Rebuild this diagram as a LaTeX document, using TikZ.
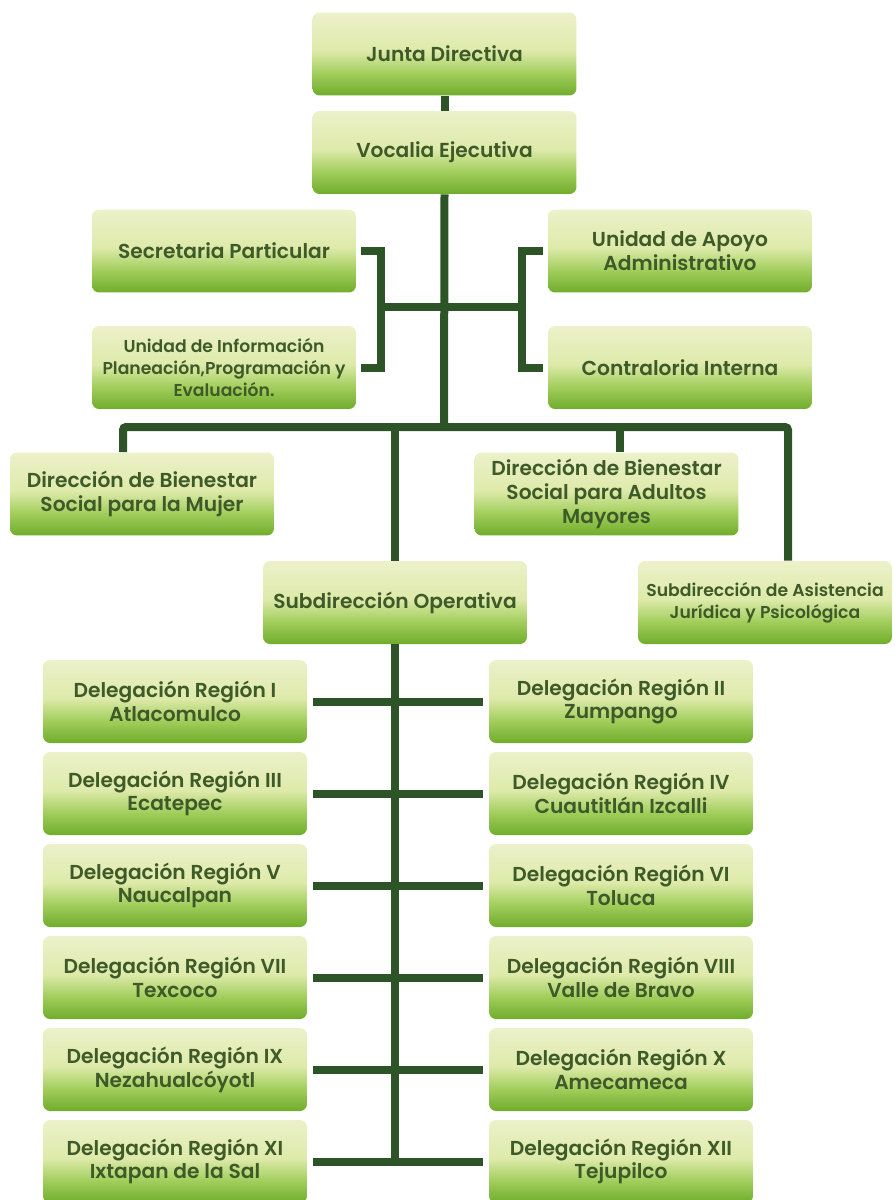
\documentclass[tikz,border=0pt]{standalone}
\usepackage{fontspec}
\setmainfont{Poppins}[BoldFont={Poppins SemiBold}]
\definecolor{linea}{RGB}{44,84,38}
\definecolor{letra}{RGB}{62,90,40}
\definecolor{verdeT}{RGB}{236,241,202}
\definecolor{verdeC}{RGB}{222,234,170}
\definecolor{verdeM}{RGB}{160,205,90}
\definecolor{verdeB}{RGB}{112,172,44}
\pgfdeclareverticalshading{caja}{100bp}{color(0bp)=(verdeB); color(25bp)=(verdeB); color(38bp)=(verdeM); color(52bp)=(verdeC); color(75bp)=(verdeT); color(100bp)=(verdeT)}
\tikzset{
  unidad/.style={shading=caja, rounded corners=0.14cm, minimum width=5.28cm, minimum height=1.66cm,
    align=center, text=letra, font=\bfseries\fontsize{11.5}{13.5}\selectfont, inner sep=1pt},
  chica/.style={font=\bfseries\fontsize{9.8}{12.5}\selectfont},
  enlace/.style={draw=linea, line width=0.16cm},
}
\begin{document}
\begin{tikzpicture}[x=0.02cm, y=-0.02cm]
    \useasboundingbox (0,0) rectangle (894,1200);

    % Top of the chart
    \node[unidad] (junta) at (444.5,54) {Junta Directiva};
    \node[unidad] (vocalia) at (444.5,152.5) {Vocalia Ejecutiva};

    % Support units
    \node[unidad] (secre) at (224,251) {Secretaria Particular};
    \node[unidad, chica] (infoplan) at (224,367.5) {Unidad de Información\\Planeación,Programación y\\Evaluación.};
    \node[unidad] (apoyo) at (680,251) {Unidad de Apoyo\\Administrativo};
    \node[unidad] (contra) at (680,367.5) {Contraloria Interna};

    % Direcciones
    \node[unidad] (mujer) at (142,494) {Dirección de Bienestar\\Social para la Mujer};
    \node[unidad] (adultos) at (606.5,494) {Dirección de Bienestar\\Social para Adultos\\Mayores};
    \node[unidad] (operativa) at (395,602.5) {Subdirección Operativa};
    \node[unidad, chica, minimum width=5.08cm] (asistencia) at (765,602.5) {Subdirección de Asistencia\\Jurídica y Psicológica};

    % Branch points
    \coordinate (bl) at (381,307);
    \coordinate (br) at (522,307);
    \coordinate (cruce) at (444,427);
    \coordinate (ramaM) at (123,427);
    \coordinate (ramaO) at (395,427);
    \coordinate (ramaA) at (620,427);
    \coordinate (ramaS) at (788,427);

    % Connectors
    \draw[enlace] (junta.south) -- (vocalia.north);
    \draw[enlace] (vocalia.south) -- (cruce);
    \draw[enlace, shorten <=0.1cm, shorten >=0.1cm] (secre.east) -| (bl) |- (infoplan.east);
    \draw[enlace, shorten <=0.1cm, shorten >=0.1cm] (apoyo.west) -| (br) |- (contra.west);
    \draw[enlace] (bl) -- (br);
    \draw[enlace, rounded corners=0.06cm] (ramaM |- mujer.north) -- (ramaM) -- (ramaS) -- (ramaS |- asistencia.north);
    \draw[enlace] (ramaA) -- (ramaA |- adultos.north);
    \draw[enlace] (ramaO) -- (operativa.north);

    % Delegaciones
    \foreach \i/\izq/\der in {0/{Delegación Región I\\Atlacomulco}/{Delegación Región II\\Zumpango},
        1/{Delegación Región III\\Ecatepec}/{Delegación Región IV\\Cuautitlán Izcalli},
        2/{Delegación Región V\\Naucalpan}/{Delegación Región VI\\Toluca},
        3/{Delegación Región VII\\Texcoco}/{Delegación Región VIII\\Valle de Bravo},
        4/{Delegación Región IX\\Nezahualcóyotl}/{Delegación Región X\\Amecameca},
        5/{Delegación Región XI\\Ixtapan de la Sal}/{Delegación Región XII\\Tejupilco}}
    {
        \node[unidad] (izq\i) at (175,701.5+92*\i) {\izq};
        \node[unidad] (der\i) at (621,701.5+92*\i) {\der};
        \draw[enlace, shorten <=0.12cm, shorten >=0.12cm] (izq\i.east) -- (der\i.west);
    }
    \draw[enlace] (operativa.south) -- (operativa.south |- der5.west);

\end{tikzpicture}
\end{document}
